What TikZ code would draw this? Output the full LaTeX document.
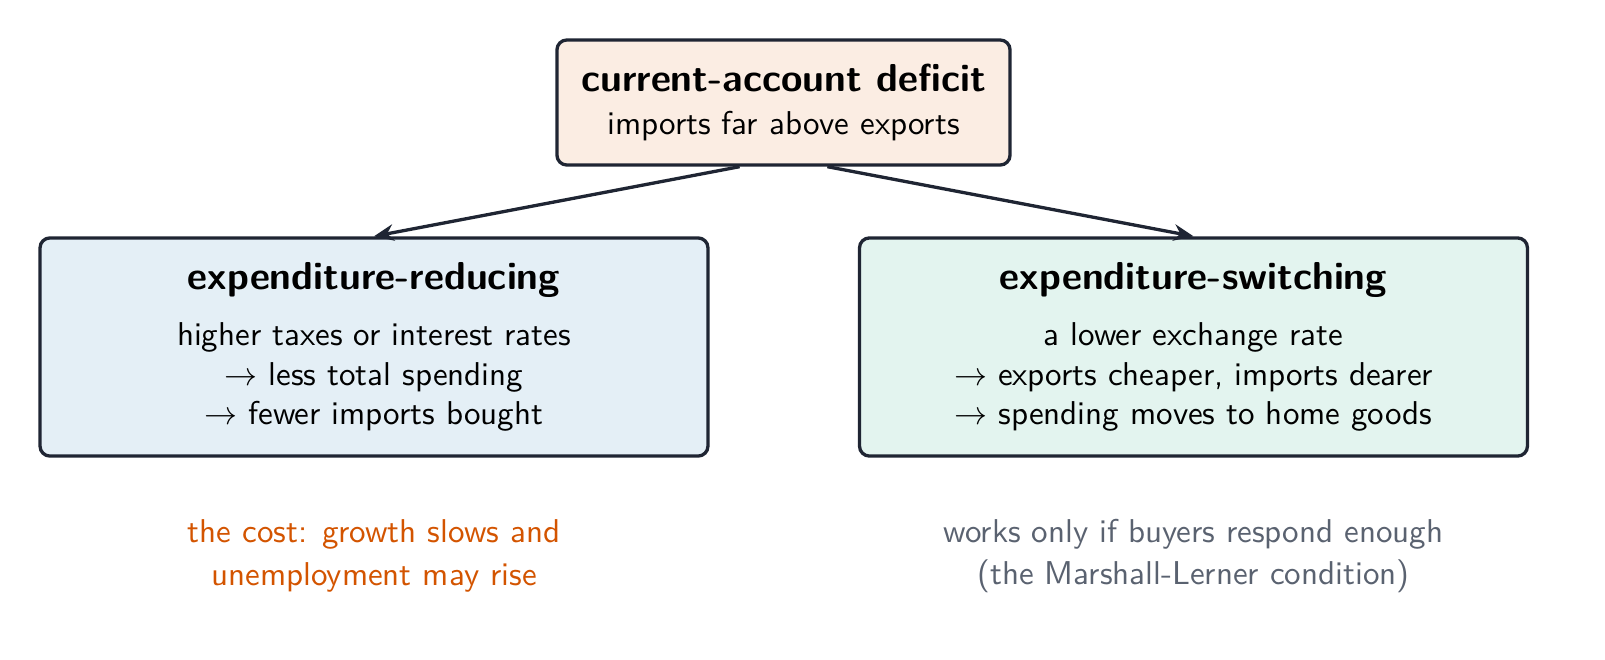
\documentclass[tikz,border=0pt]{standalone}
\usetikzlibrary{arrows.meta}
\definecolor{edge}{HTML}{1F2533}
\definecolor{peach}{HTML}{FBEDE3}
\definecolor{lblue}{HTML}{E4EFF6}
\definecolor{lgreen}{HTML}{E3F4EF}
\definecolor{costorange}{HTML}{D35400}
\definecolor{notegray}{HTML}{5A6270}
\tikzset{
  box/.style={draw=edge, line width=1pt, rounded corners=3pt, align=center, inner sep=0pt, font=\sffamily\fontsize{10}{12}\selectfont},
  conn/.style={draw=edge, line width=1pt, -{Stealth[length=6pt,width=5pt]}},
  note/.style={align=center, font=\sffamily\fontsize{10}{12.8}\selectfont}
}
\newcommand{\ttl}{\bfseries\fontsize{11.8}{14}\selectfont}
\begin{document}
\begin{tikzpicture}[x=0.30303pt,y=-0.30303pt]
\useasboundingbox (0,0) rectangle (1605,660);
\node[box, fill=peach, minimum width=137.3pt, minimum height=37.9pt] (top) at (783.5,102.5)
  {{\ttl current-account deficit}\\[1pt] imports far above exports};
\node[box, fill=lblue, minimum width=202.4pt, minimum height=66.1pt] (left) at (374,347)
  {{\ttl expenditure-reducing}\\[5pt] higher taxes or interest rates\\ $\rightarrow$ less total spending\\ $\rightarrow$ fewer imports bought};
\node[box, fill=lgreen, minimum width=202.4pt, minimum height=66.1pt] (right) at (1193.5,347)
  {{\ttl expenditure-switching}\\[5pt] a lower exchange rate\\ $\rightarrow$ exports cheaper, imports dearer\\ $\rightarrow$ spending moves to home goods};
\coordinate (tl) at ([xshift=-13.3pt]top.south);
\coordinate (tr) at ([xshift=13.3pt]top.south);
\draw[conn] (tl) -- (left.north);
\draw[conn] (tr) -- (right.north);
\node[note, text=costorange] (cost) at (374,556) {the cost: growth slows and\\ unemployment may rise};
\node[note, text=notegray] (ml) at (1193.5,556) {works only if buyers respond enough\\ (the Marshall-Lerner condition)};
\end{tikzpicture}
\end{document}
